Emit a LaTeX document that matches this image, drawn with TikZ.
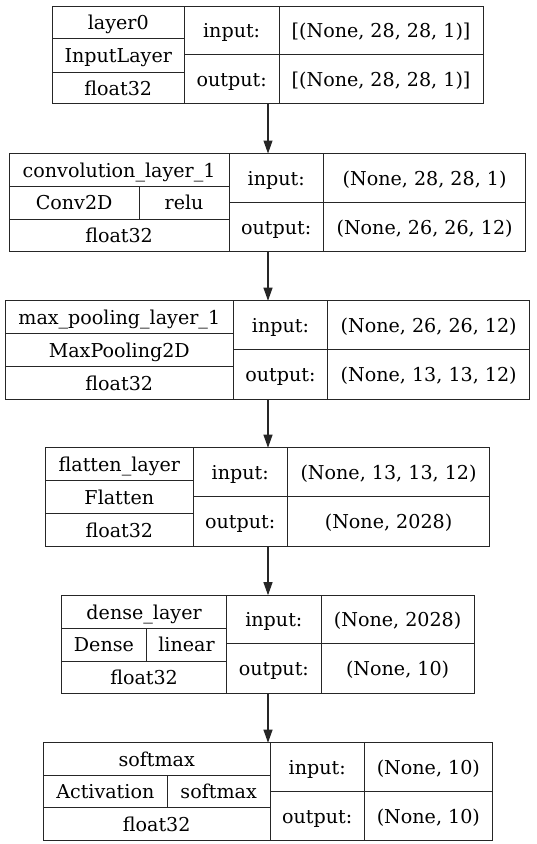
\documentclass[tikz,border=0pt]{standalone}
\usepackage{fontspec}
\setmainfont{DejaVu Serif}
\usetikzlibrary{arrows.meta}
\tikzset{
  cell/.style={draw=black!85, line width=1pt, rectangle, inner sep=0pt,
    text height=14.6pt, text depth=0pt,
    font=\fontsize{19.1}{22}\selectfont},
  layerbox/.style={rectangle, inner sep=0pt},
  flow/.style={draw=black!85, line width=1.1pt, -{Triangle[length=13pt,width=9pt]}}
}
% \cell{name}{x0}{y0}{x1}{y1}{text}
\newcommand{\cell}[6]{\node[cell, minimum width={(#4-#2)*1pt}, minimum height={(#5-#3)*1pt}] (#1) at ({(#2+#4)/2},{(#3+#5)/2}) {#6};}
% \lbox{name}{x0}{y0}{x1}{y1}
\newcommand{\lbox}[5]{\node[layerbox, minimum width={(#4-#2)*1pt}, minimum height={(#5-#3)*1pt}] (#1) at ({(#2+#4)/2},{(#3+#5)/2}) {};}
\begin{document}
\begin{tikzpicture}[x=1pt,y=-1pt]
\useasboundingbox (0,0) rectangle (536,844);
% ---- layer 0
\lbox{L1}{52.3}{6.2}{483.1}{103.9}
\cell{L1a}{52.3}{6.2}{184.3}{38.6}{layer0}
\cell{L1b}{52.3}{38.6}{184.3}{72.1}{InputLayer}
\cell{L1c}{52.3}{72.1}{184.3}{103.9}{float32}
\cell{L1i}{184.3}{6.2}{279}{54.4}{input:}
\cell{L1iv}{279}{6.2}{483.1}{54.4}{[(None, 28, 28, 1)]}
\cell{L1o}{184.3}{54.4}{279}{103.9}{output:}
\cell{L1ov}{279}{54.4}{483.1}{103.9}{[(None, 28, 28, 1)]}
% ---- convolution
\lbox{L2}{9.2}{153.7}{525.8}{251.5}
\cell{L2a}{9.2}{153.7}{229}{186.2}{convolution\_layer\_1}
\cell{L2b}{9.2}{186.2}{139.1}{219}{Conv2D}
\cell{L2b2}{139.1}{186.2}{229}{219}{relu}
\cell{L2c}{9.2}{219}{229}{251.5}{float32}
\cell{L2i}{229}{153.7}{323.4}{202.2}{input:}
\cell{L2iv}{323.4}{153.7}{525.8}{202.2}{(None, 28, 28, 1)}
\cell{L2o}{229}{202.2}{323.4}{251.5}{output:}
\cell{L2ov}{323.4}{202.2}{525.8}{251.5}{(None, 26, 26, 12)}
% ---- max pooling
\lbox{L3}{5.1}{300.9}{529.9}{399}
\cell{L3a}{5.1}{300.9}{233.5}{333.4}{max\_pooling\_layer\_1}
\cell{L3b}{5.1}{333.4}{233.5}{366.6}{MaxPooling2D}
\cell{L3c}{5.1}{366.6}{233.5}{399}{float32}
\cell{L3i}{233.5}{300.9}{327.5}{349.5}{input:}
\cell{L3iv}{327.5}{300.9}{529.9}{349.5}{(None, 26, 26, 12)}
\cell{L3o}{233.5}{349.5}{327.5}{399}{output:}
\cell{L3ov}{327.5}{349.5}{529.9}{399}{(None, 13, 13, 12)}
% ---- flatten
\lbox{L4}{45.5}{447.9}{489.9}{546}
\cell{L4a}{45.5}{447.9}{193.2}{480.7}{flatten\_layer}
\cell{L4b}{45.5}{480.7}{193.2}{513.5}{Flatten}
\cell{L4c}{45.5}{513.5}{193.2}{546}{float32}
\cell{L4i}{193.2}{447.9}{287.2}{496.8}{input:}
\cell{L4iv}{287.2}{447.9}{489.9}{496.8}{(None, 13, 13, 12)}
\cell{L4o}{193.2}{496.8}{287.2}{546}{output:}
\cell{L4ov}{287.2}{496.8}{489.9}{546}{(None, 2028)}
% ---- dense
\lbox{L5}{61.5}{595.4}{474.2}{693.2}
\cell{L5a}{61.5}{595.4}{226.7}{628.2}{dense\_layer}
\cell{L5b}{61.5}{628.2}{146.3}{661}{Dense}
\cell{L5b2}{146.3}{628.2}{226.7}{661}{linear}
\cell{L5c}{61.5}{661}{226.7}{693.2}{float32}
\cell{L5i}{226.7}{595.4}{321}{643.9}{input:}
\cell{L5iv}{321}{595.4}{474.2}{643.9}{(None, 2028)}
\cell{L5o}{226.7}{643.9}{321}{693.2}{output:}
\cell{L5ov}{321}{643.9}{474.2}{693.2}{(None, 10)}
% ---- softmax
\lbox{L6}{43.4}{742.9}{492.3}{840.3}
\cell{L6a}{43.4}{742.9}{270.1}{775}{softmax}
\cell{L6b}{43.4}{775}{167.2}{807.9}{Activation}
\cell{L6b2}{167.2}{775}{270.1}{807.9}{softmax}
\cell{L6c}{43.4}{807.9}{270.1}{840.3}{float32}
\cell{L6i}{270.1}{742.9}{364.4}{791.5}{input:}
\cell{L6iv}{364.4}{742.9}{492.3}{791.5}{(None, 10)}
\cell{L6o}{270.1}{791.5}{364.4}{840.3}{output:}
\cell{L6ov}{364.4}{791.5}{492.3}{840.3}{(None, 10)}
% ---- connectors
\coordinate (ax) at (268,0);
\draw[flow] (ax |- L1.south) -- (ax |- L2.north);
\draw[flow] (ax |- L2.south) -- (ax |- L3.north);
\draw[flow] (ax |- L3.south) -- (ax |- L4.north);
\draw[flow] (ax |- L4.south) -- (ax |- L5.north);
\draw[flow] (ax |- L5.south) -- (ax |- L6.north);
\end{tikzpicture}
\end{document}
